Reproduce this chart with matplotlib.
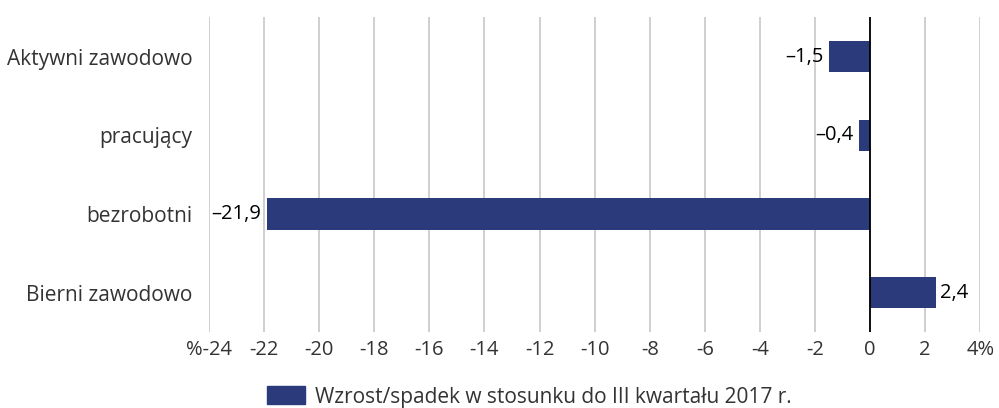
import matplotlib.pyplot as plt
import matplotlib.patches as mpatches

# Data
categories = ['Aktywni zawodowo', 'pracujący', 'bezrobotni', 'Bierni zawodowo']
values = [-1.5, -0.4, -21.9, 2.4]
value_labels = ['\u20131,5', '\u20130,4', '\u201321,9', '2,4']
xticks = list(range(-24, 5, 2))
xtick_labels = ['%-24'] + [str(t) for t in xticks[1:-1]] + ['4%']
legend_label = 'Wzrost/spadek w stosunku do III kwartału 2017 r.'

bar_color = '#2b3a7a'
text_color = '#333333'
plt.rcParams['font.family'] = ['Open Sans', 'DejaVu Sans']

fig = plt.figure(figsize=(9.99, 4.08), dpi=100)
ax = fig.add_axes([0.2092, 0.186, 0.772, 0.772])

y = list(range(len(categories)))
ax.barh(y, values, height=0.4, color=bar_color, zorder=3)

for yi, v, lab in zip(y, values, value_labels):
	if v < 0:
		ax.text(v - 0.2, yi, lab, ha='right', va='center', fontsize=14.5, color='black')
	else:
		ax.text(v + 0.15, yi, lab, ha='left', va='center', fontsize=14.5, color='black')

ax.set_xlim(-24, 4)
ax.set_ylim(3.5, -0.5)
ax.set_xticks(xticks)
ax.set_xticklabels(xtick_labels, fontsize=14.5, color=text_color)
ax.set_yticks(y)
ax.set_yticklabels(categories, fontsize=15, color=text_color)
ax.tick_params(axis='y', length=0, pad=12)
ax.tick_params(axis='x', length=0, pad=6)

for s in ax.spines.values():
	s.set_visible(False)
ax.grid(axis='x', color='#cccccc', linewidth=1.3, zorder=0)
ax.axvline(0, color='black', linewidth=1.3, zorder=4)

handle = mpatches.Patch(color=bar_color, label=legend_label)
fig.legend(handles=[handle], loc='lower left', bbox_to_anchor=(0.265, -0.004),
	frameon=False, fontsize=15, handlelength=1.83, handleheight=0.96,
	handletextpad=0.48, borderpad=0.1, borderaxespad=0, labelcolor=text_color)

fig.savefig('out.png', dpi=100)
